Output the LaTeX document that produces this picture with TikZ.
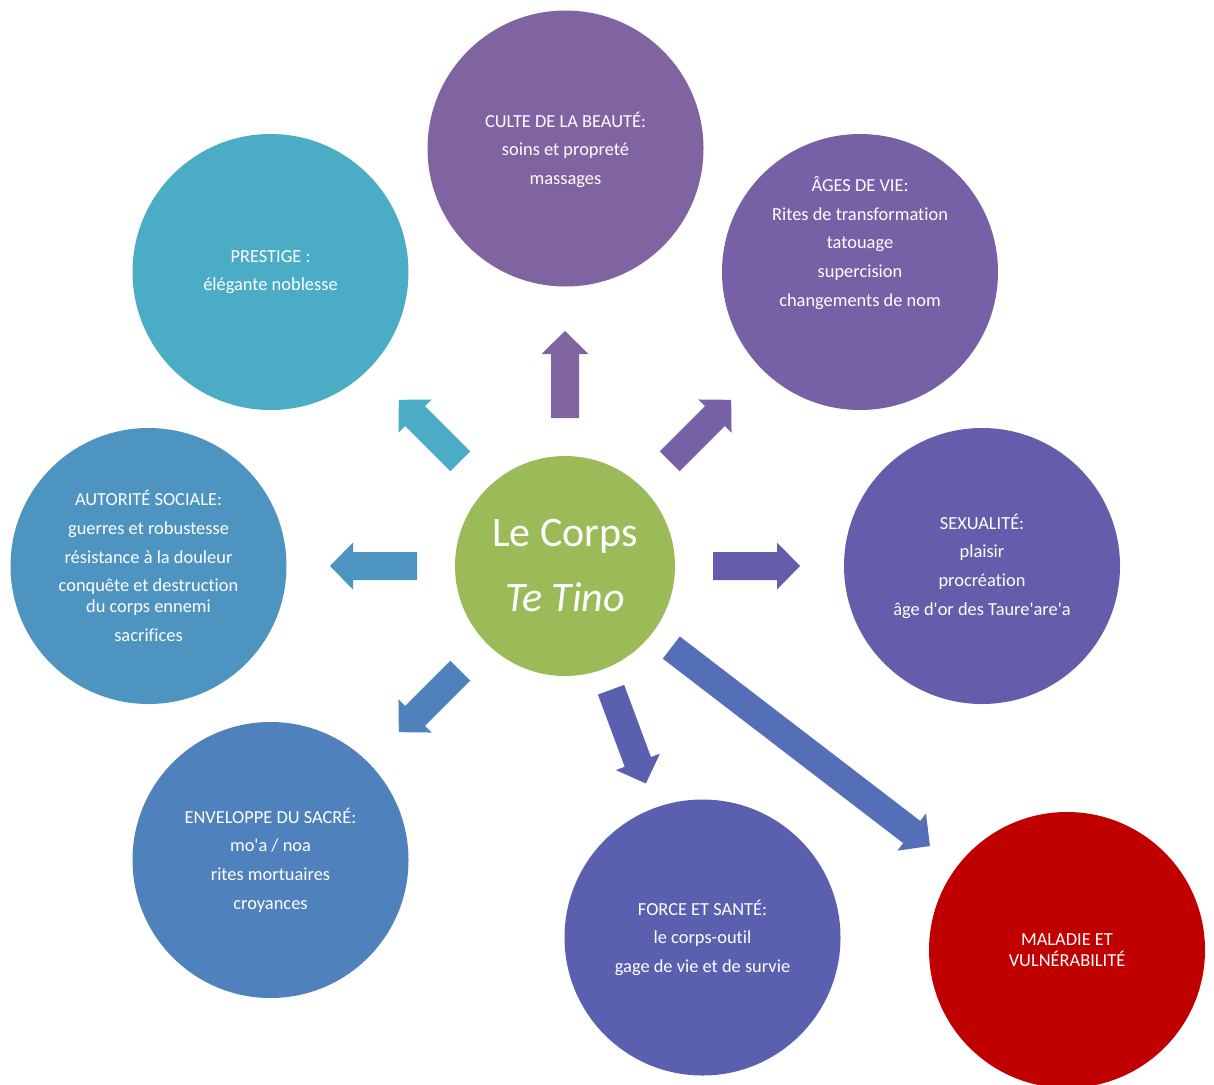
\documentclass[tikz,border=0pt]{standalone}
\usepackage{fontspec}
\setmainfont{Carlito}[Ligatures={NoCommon}]
\usetikzlibrary{calc}
\definecolor{cGreen}{HTML}{9BBB59}
\definecolor{cCulte}{HTML}{8064A2}
\definecolor{cPrestige}{HTML}{4BACC6}
\definecolor{cAges}{HTML}{7660A6}
\definecolor{cSexe}{HTML}{645DAB}
\definecolor{cAutorite}{HTML}{4E94C0}
\definecolor{cSacre}{HTML}{4F81BD}
\definecolor{cForce}{HTML}{5A5FB0}
\definecolor{cLong}{HTML}{546EB8}
\definecolor{cMaladie}{HTML}{C00000}
\newcommand\apos{\textquotesingle}
\tikzset{
  bubble/.style={circle, minimum size=276pt, inner sep=0pt, fill=#1},
  txt/.style={text=white, align=center, inner sep=0pt,
    font=\fontsize{18.4}{28.6}\selectfont},
  coretxt/.style={text=white, align=center, inner sep=0pt,
    font=\fontsize{42}{65}\selectfont},
}
% block arrow: colour, tail coordinate, tip coordinate
\newcommand\blockarrow[3]{%
  \coordinate (ba-c) at ($(#3)!23pt!(#2)$);
  \fill[#1] ($(#2)!14pt!90:(#3)$) -- ($(ba-c)!14pt!90:(#3)$)
    -- ($(ba-c)!23.5pt!90:(#3)$) -- (#3)
    -- ($(ba-c)!23.5pt!-90:(#3)$) -- ($(ba-c)!14pt!-90:(#3)$)
    -- ($(#2)!14pt!-90:(#3)$) -- cycle;}
\begin{document}
\begin{tikzpicture}[x=1pt,y=-1pt]
\useasboundingbox (0,0) rectangle (1214,1084);
% circles
\node[bubble=cGreen] (core) at (565,566) [minimum size=220pt] {};
\node[bubble=cCulte] (culte) at (565.5,148.5) {};
\node[bubble=cPrestige] (prestige) at (270.5,272) {};
\node[bubble=cAges] (ages) at (860,272) {};
\node[bubble=cSexe] (sexe) at (982,566) {};
\node[bubble=cAutorite] (autorite) at (148.5,566) {};
\node[bubble=cSacre] (sacre) at (270.5,860) {};
\node[bubble=cForce] (force) at (702.5,937.5) {};
\node[bubble=cMaladie] (maladie) at (1067,950) {};
% texts
\node[coretxt] (core-t) at (core.center) {Le Corps\\\textit{Te Tino}};
\node[txt] (culte-t) at ([yshift=-1pt]culte.center) {CULTE DE LA BEAUTÉ:\\soins et propreté\\massages};
\node[txt] (prestige-t) at (prestige.center) {PRESTIGE :\\élégante noblesse};
\node[txt] (ages-t) at ([yshift=29pt]ages.center) {ÂGES DE VIE:\\Rites de transformation\\tatouage\\supercision\\changements de nom};
\node[txt] (sexe-t) at (sexe.center) {SEXUALITÉ:\\plaisir\\procréation\\âge d\apos or des Taure\apos are\apos a};
\node[txt] (autorite-t) at (autorite.center) {AUTORITÉ SOCIALE:\\guerres et robustesse\\résistance à la douleur\\conquête et destruction\\[-7.4pt]du corps ennemi\\sacrifices};
\node[txt] (sacre-t) at (sacre.center) {ENVELOPPE DU SACRÉ:\\mo\apos a / noa\\rites mortuaires\\croyances};
\node[txt] (force-t) at (force.center) {FORCE ET SANTÉ:\\le corps-outil\\gage de vie et de survie};
\node[txt, font=\fontsize{18.4}{21}\selectfont] (maladie-t) at (maladie.center) {MALADIE ET\\VULNÉRABILITÉ};
% arrow end points
\coordinate (up-t) at ($(core.center)+(90:148pt)$);
\coordinate (up-h) at ($(core.center)+(90:235pt)$);
\coordinate (ne-t) at ($(core.center)+(45:148pt)$);
\coordinate (ne-h) at ($(core.center)+(45:235pt)$);
\coordinate (ri-t) at ($(core.center)+(0:148pt)$);
\coordinate (ri-h) at ($(core.center)+(0:235pt)$);
\coordinate (lo-t) at ($(core.center)+(-37.5:134pt)$);
\coordinate (lo-h) at ($(core.center)+(-37.5:460pt)$);
\coordinate (dn-t) at ($(core.center)+(-69.6:132pt)$);
\coordinate (dn-h) at ($(core.center)+(-69.6:232pt)$);
\coordinate (sw-t) at ($(core.center)+(-135:148pt)$);
\coordinate (sw-h) at ($(core.center)+(-135:235pt)$);
\coordinate (le-t) at ($(core.center)+(180:148pt)$);
\coordinate (le-h) at ($(core.center)+(180:235pt)$);
\coordinate (nw-t) at ($(core.center)+(135:148pt)$);
\coordinate (nw-h) at ($(core.center)+(135:235pt)$);
% arrows
\blockarrow{cCulte}{up-t}{up-h}
\blockarrow{cAges}{ne-t}{ne-h}
\blockarrow{cSexe}{ri-t}{ri-h}
\blockarrow{cLong}{lo-t}{lo-h}
\blockarrow{cForce}{dn-t}{dn-h}
\blockarrow{cSacre}{sw-t}{sw-h}
\blockarrow{cAutorite}{le-t}{le-h}
\blockarrow{cPrestige}{nw-t}{nw-h}
\end{tikzpicture}
\end{document}
